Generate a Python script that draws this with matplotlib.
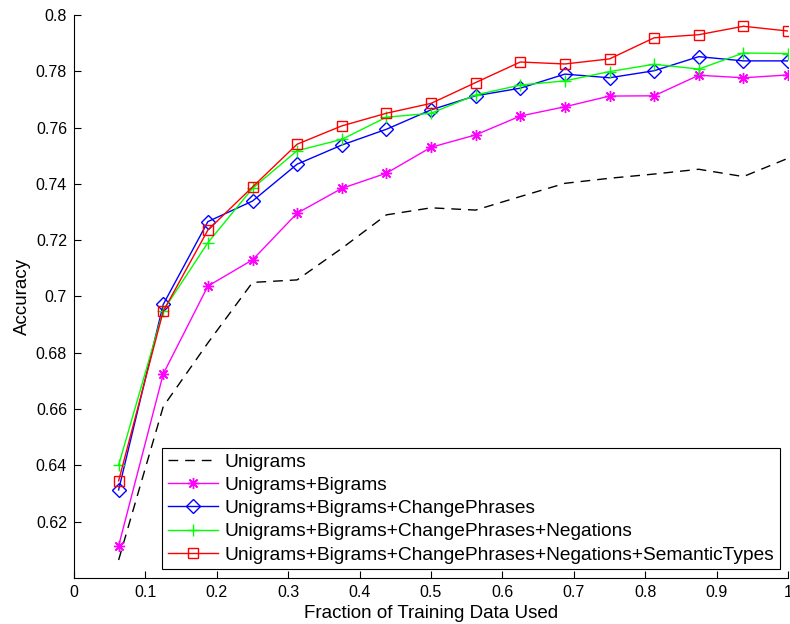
import numpy as np
import matplotlib.pyplot as plt

plt.rcParams['font.family'] = ['Liberation Sans', 'DejaVu Sans']

# fraction of training data (16 steps)
frac = [i / 16 for i in range(1, 17)]

unigrams = [0.6064, 0.6609, 0.6835, 0.7050, 0.7059, 0.7171, 0.7290, 0.7315,
            0.7307, 0.7355, 0.7402, 0.7420, 0.7435, 0.7452, 0.7426, 0.7491]
uni_bi = [0.6114, 0.6725, 0.7037, 0.7130, 0.7296, 0.7384, 0.7438, 0.7530,
          0.7574, 0.7641, 0.7674, 0.7712, 0.7713, 0.7786, 0.7777, 0.7787]
uni_bi_cp = [0.6313, 0.6972, 0.7266, 0.7339, 0.7470, 0.7538, 0.7594, 0.7663,
             0.7713, 0.7740, 0.7790, 0.7777, 0.7802, 0.7852, 0.7837, 0.7837]
uni_bi_cp_neg = [0.6401, 0.6950, 0.7191, 0.7384, 0.7518, 0.7558, 0.7637, 0.7651,
                 0.7716, 0.7751, 0.7766, 0.7799, 0.7825, 0.7808, 0.7865, 0.7863]
uni_bi_cp_neg_st = [0.6345, 0.6948, 0.7236, 0.7389, 0.7541, 0.7606, 0.7651, 0.7686,
                    0.7760, 0.7833, 0.7826, 0.7844, 0.7919, 0.7930, 0.7960, 0.7943]

labels = ['Unigrams',
          'Unigrams+Bigrams',
          'Unigrams+Bigrams+ChangePhrases',
          'Unigrams+Bigrams+ChangePhrases+Negations',
          'Unigrams+Bigrams+ChangePhrases+Negations+SemanticTypes']

xticks = [0, 0.1, 0.2, 0.3, 0.4, 0.5, 0.6, 0.7, 0.8, 0.9, 1]
xticklabels = ['0', '0.1', '0.2', '0.3', '0.4', '0.5', '0.6', '0.7', '0.8', '0.9', '1']
yticks = [0.62, 0.64, 0.66, 0.68, 0.7, 0.72, 0.74, 0.76, 0.78, 0.8]
yticklabels = ['0.62', '0.64', '0.66', '0.68', '0.7', '0.72', '0.74', '0.76', '0.78', '0.8']

fig = plt.figure(figsize=(7.9, 6.24), dpi=100)
ax = fig.add_axes([74 / 790, 1 - 578 / 624, 714 / 790, 563 / 624])

lw = 1.0
ax.plot(frac, unigrams, color='k', linestyle=(0, (7, 5)), lw=lw, label=labels[0])
ax.plot(frac, uni_bi, color='#ff00ff', lw=lw, marker=(8, 2, 0), markersize=8,
        mew=1.0, label=labels[1])
ax.plot(frac, uni_bi_cp, color='#0000ff', lw=lw, marker='D', markersize=7,
        mfc='none', mew=1.0, label=labels[2])
ax.plot(frac, uni_bi_cp_neg, color='#00ff00', lw=lw, marker='+', markersize=9,
        mew=1.0, label=labels[3])
ax.plot(frac, uni_bi_cp_neg_st, color='#ff0000', lw=lw, marker='s', markersize=7,
        mfc='none', mew=1.0, label=labels[4])

ax.set_xlim(0, 1)
ax.set_ylim(0.6, 0.8)
ax.set_xticks(xticks)
ax.set_xticklabels(xticklabels)
ax.set_yticks(yticks)
ax.set_yticklabels(yticklabels)
ax.tick_params(direction='in', length=5, labelsize=11.5, width=0.8, pad=5)
for s in ['top', 'right']:
    ax.spines[s].set_visible(False)
for s in ['left', 'bottom']:
    ax.spines[s].set_linewidth(0.8)

ax.set_xlabel('Fraction of Training Data Used', fontsize=13.5, labelpad=4)
ax.set_ylabel('Accuracy', fontsize=13.5, labelpad=3.5)

leg = ax.legend(loc='lower left', bbox_to_anchor=(0.1237, 0.0155), fontsize=13.8,
                handlelength=2.6, handletextpad=0.35, labelspacing=0.3,
                borderpad=0.3, borderaxespad=0, fancybox=False, framealpha=1)
leg.get_frame().set_edgecolor('k')
leg.get_frame().set_linewidth(0.8)

fig.savefig('out.png', dpi=100)
